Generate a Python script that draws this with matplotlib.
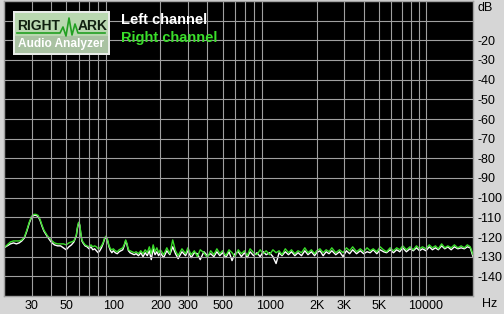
import matplotlib
matplotlib.use('Agg')
import matplotlib.pyplot as plt
from matplotlib.patches import Rectangle
from matplotlib.lines import Line2D

plt.rcParams['font.family'] = ['Liberation Sans', 'DejaVu Sans']

# noise spectrum, Hz / dB
freq_hz = [20, 21, 22, 23, 24, 25, 26, 27, 28, 29, 30, 31, 32, 33, 34, 35, 36, 38, 40, 42,
           44, 46, 48, 50, 52, 54, 56, 58, 59, 60, 61, 62, 63, 64, 66, 68, 70, 72, 74, 76,
           78, 80, 82, 84, 86, 88, 90, 92, 94, 96, 98, 100, 103, 106, 109, 112, 115, 118, 120, 122,
           125, 128, 132, 136, 140, 145, 150, 155, 160, 165, 170, 175, 180, 185, 190, 195,
           200, 210, 220, 230, 240, 250, 260, 275, 290, 300, 315, 330, 345, 360, 380, 400,
           420, 440, 460, 480, 500, 525, 550, 575, 600, 630, 660, 690, 720, 750, 790, 830,
           870, 910, 950, 1000, 1050, 1100, 1150, 1200, 1260, 1320, 1380, 1450, 1520, 1600,
           1680, 1760, 1850, 1940, 2000, 2100, 2200, 2300, 2400, 2500, 2650, 2800, 2950, 3100,
           3250, 3400, 3600, 3800, 4000, 4200, 4400, 4600, 4850, 5100, 5350, 5600, 5900, 6200,
           6500, 6800, 7100, 7500, 7900, 8300, 8700, 9100, 9500, 10000, 10500, 11000, 11500,
           12000, 12600, 13200, 13800, 14500, 15200, 16000, 16800, 17600, 18400, 19200, 20000]

right_db = [-125.5, -124.0, -122.5, -122.0, -122.0, -122.0, -121.5, -120.0, -116.5, -112.5,
            -109.5, -108.5, -108.5, -109.0, -111.0, -114.0, -116.5, -119.5, -121.5, -123.0,
            -123.5, -123.5, -123.5, -124.0, -123.0, -122.5, -122.0, -119.0, -115.0, -112.5,
            -113.5, -118.0, -121.5, -122.5, -124.0, -124.5, -125.0, -124.0, -125.0, -124.5,
            -125.0, -126.0, -125.5, -124.5, -123.0, -120.5, -119.5, -121.5, -124.5, -126.0,
            -126.5, -126.0, -127.0, -127.5, -126.5, -126.0, -125.5, -123.5, -121.5, -123.0,
            -126.5, -127.0, -127.5, -128.0, -127.5, -128.5, -127.0, -128.5, -126.5, -128.0,
            -125.0, -128.5, -124.0, -127.5, -125.5, -128.0,
            -126.5, -129.0, -125.5, -128.5, -121.5, -127.0, -129.5, -126.0, -128.5, -125.5,
            -129.0, -127.0, -130.0, -126.5, -128.0, -130.5, -127.0, -129.0, -126.0, -128.5,
            -127.0, -129.5, -126.5, -128.0, -130.0, -126.5, -128.5, -127.0, -129.5, -126.0,
            -128.0, -129.0, -126.5, -128.5, -127.0, -129.0, -126.5, -128.0, -127.0, -129.0,
            -126.0, -128.0, -126.5, -128.5, -127.0, -128.0, -125.5, -128.0, -126.5, -128.5,
            -127.0, -126.0, -128.0, -126.5, -127.5, -125.5, -128.0, -126.5, -128.0, -125.5,
            -127.0, -125.0, -127.5, -126.0, -127.5, -125.5, -127.0, -126.0, -127.5, -125.0,
            -126.5, -127.5, -125.5, -127.0, -125.5, -126.5, -124.5, -126.5, -125.0, -126.5,
            -124.5, -126.0, -125.0, -126.0, -124.0, -125.5, -124.5, -126.0, -123.5, -125.5,
            -124.5, -125.5, -124.0, -125.5, -124.5, -125.5, -124.0, -125.0, -129.0]

left_db = [-125.5, -124.5, -123.5, -123.0, -123.5, -123.0, -122.0, -120.5, -117.0, -113.0,
           -110.0, -109.0, -109.0, -109.5, -111.5, -114.5, -117.0, -120.0, -122.5, -124.0,
           -124.5, -124.5, -125.5, -126.5, -125.0, -124.0, -122.5, -119.5, -115.5, -113.0,
           -114.0, -118.5, -122.0, -123.0, -124.5, -125.0, -126.0, -125.0, -126.5, -126.0,
           -127.0, -128.0, -127.0, -125.5, -123.5, -121.0, -120.0, -122.0, -125.0, -127.0,
           -128.0, -127.0, -128.0, -128.5, -127.5, -127.0, -126.5, -124.0, -122.0, -123.5,
           -127.0, -128.0, -128.5, -129.0, -128.5, -129.5, -128.0, -130.0, -128.0, -129.5,
           -127.0, -131.5, -126.0, -129.0, -127.5, -129.5,
           -128.0, -130.5, -127.0, -129.0, -125.0, -128.5, -131.0, -127.5, -129.5, -127.0,
           -130.5, -128.0, -128.5, -131.5, -127.5, -129.5, -128.5, -130.0, -127.5, -129.5,
           -128.0, -130.5, -127.5, -132.0, -128.5, -127.5, -130.0, -128.0, -130.5, -127.5,
           -129.5, -128.0, -130.0, -127.5, -129.0, -128.0, -130.0, -133.5, -128.0, -129.5,
           -127.5, -129.0, -127.5, -129.5, -128.0, -129.5, -127.0, -129.0, -127.5, -129.5,
           -128.0, -127.0, -129.5, -127.5, -128.5, -127.0, -129.0, -127.5, -130.0, -127.0,
           -128.5, -126.5, -128.5, -127.0, -128.5, -127.5, -128.0, -126.5, -128.5, -126.5,
           -127.5, -128.0, -126.5, -128.0, -126.5, -127.5, -125.5, -127.5, -126.0, -127.0,
           -125.5, -127.0, -126.0, -127.0, -125.0, -126.5, -125.5, -126.5, -124.5, -126.0,
           -125.0, -126.5, -125.0, -126.0, -125.5, -126.0, -125.0, -125.5, -130.0]

db_ticks = [-20, -30, -40, -50, -60, -70, -80, -90, -100, -110, -120, -130, -140]
hz_ticks = [30, 50, 100, 200, 300, 500, 1000, 2000, 3000, 5000, 10000]
hz_labels = ['30', '50', '100', '200', '300', '500', '1000', '2K', '3K', '5K', '10000']

W, H = 504, 314


def px(x, y):
    # pixel (from top-left) -> figure fraction
    return x / W, 1 - y / H


fig = plt.figure(figsize=(W / 100, H / 100), dpi=100, facecolor='#d6d6d6')
ax = fig.add_axes([4 / W, 1 - 296 / H, 469 / W, 295 / H])
ax.set_facecolor('black')

ax.plot(freq_hz, left_db, color='white', lw=1.0)
ax.plot(freq_hz, right_db, color='#3ade2a', lw=1.0)

ax.set_xscale('log')
ax.set_xlim(20, 20000)
ax.set_ylim(-150, 0)

# grid
grid_x = [m * d for d in (10, 100, 1000) for m in range(2, 10)] + [10000]
for gx in grid_x:
    ax.axvline(gx, color='#a0a0a0', lw=0.8)
for gy in range(-140, 0, 10):
    ax.axhline(gy, color='#a0a0a0', lw=0.8)

ax.set_xticks(hz_ticks)
ax.set_xticklabels(hz_labels)
ax.set_xticks([], minor=True)
ax.set_yticks(db_ticks)
ax.set_yticklabels([str(t) for t in db_ticks])
ax.yaxis.tick_right()
ax.tick_params(axis='both', length=0, labelsize=9, colors='black')
ax.tick_params(axis='y', pad=3)
ax.tick_params(axis='x', pad=3)
for s in ax.spines.values():
    s.set_color('#a0a0a0')
    s.set_linewidth(1.0)

fig.text(*px(478, 8), 'dB', fontsize=9, va='center', ha='left')
fig.text(*px(482, 304), 'Hz', fontsize=9, va='center', ha='left')

# legend text
fig.text(*px(121, 20), 'Left channel', color='white', fontsize=10.5, fontweight='bold', va='center')
fig.text(*px(121, 38), 'Right channel', color='#3ade2a', fontsize=10.5, fontweight='bold', va='center')

# RightMark logo
x0, y0 = px(13, 55)
fig.patches.append(Rectangle((x0, y0), 97 / W, 44 / H, transform=fig.transFigure,
                             facecolor='#e8ece8', edgecolor='none'))
x0, y0 = px(15, 53)
fig.patches.append(Rectangle((x0, y0), 93 / W, 40 / H, transform=fig.transFigure,
                             facecolor='#b9d8b0', edgecolor='none'))
x0, y0 = px(15, 53)
fig.patches.append(Rectangle((x0, y0), 93 / W, 17 / H, transform=fig.transFigure,
                             facecolor='#a9c2a2', edgecolor='none'))
wave_x = [17, 60, 63, 66, 69, 72, 75, 78, 105]
wave_y = [33, 33, 27, 36, 18, 35, 24, 33, 33]
fig.lines.append(Line2D([px(a, b)[0] for a, b in zip(wave_x, wave_y)],
                        [px(a, b)[1] for a, b in zip(wave_x, wave_y)],
                        transform=fig.transFigure, color='#22a022', lw=1.2))
fig.text(*px(17, 26), 'RIGHT', fontsize=10, fontweight='bold', color='#102010', va='center')
fig.text(*px(78, 26), 'ARK', fontsize=10, fontweight='bold', color='#102010', va='center')
fig.text(*px(61.5, 44), 'Audio Analyzer', fontsize=8.6, fontweight='bold', color='white',
         va='center', ha='center')

fig.savefig('out.png', dpi=100, facecolor=fig.get_facecolor())
